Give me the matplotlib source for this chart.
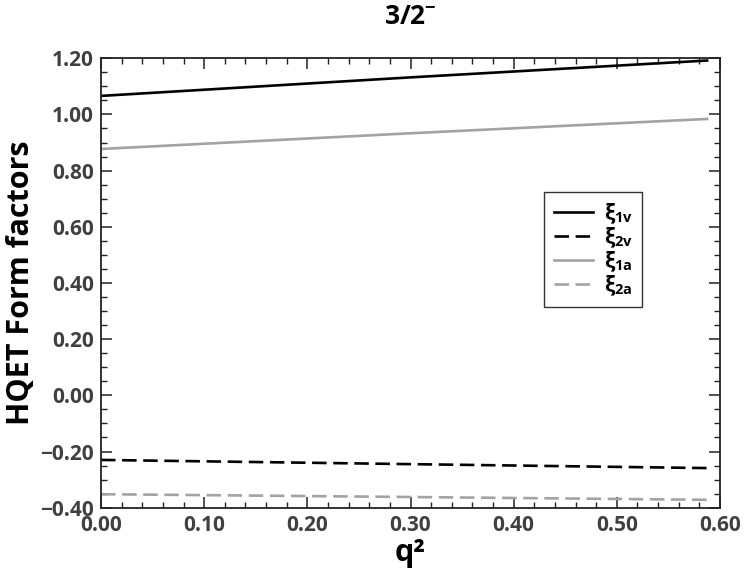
import matplotlib
matplotlib.use("Agg")
import matplotlib.pyplot as plt
from matplotlib.ticker import MultipleLocator, FuncFormatter

# valores
q2 = [0.0, 0.30, 0.5875]
xi_1v = [1.066, 1.132, 1.192]
xi_2v = [-0.230, -0.245, -0.259]
xi_1a = [0.877, 0.933, 0.984]
xi_2a = [-0.352, -0.362, -0.372]

rotulos = ["ξ$_{\\mathrm{1v}}$", "ξ$_{\\mathrm{2v}}$", "ξ$_{\\mathrm{1a}}$", "ξ$_{\\mathrm{2a}}$"]

plt.rcParams['font.family'] = ['Open Sans', 'DejaVu Sans']
plt.rcParams['mathtext.fontset'] = 'custom'
plt.rcParams['mathtext.rm'] = 'Open Sans:bold'
plt.rcParams['mathtext.bf'] = 'Open Sans:bold'
plt.rcParams['mathtext.it'] = 'Open Sans:bold'

def fmt(v, pos):
    # sinal de menos comprido como no original
    return ("%.2f" % v).replace("-", "\u2212")

fig = plt.figure(figsize=(7.47, 5.88), dpi=100)
ax = fig.add_axes([0.1352, 0.1366, 0.8287, 0.7643])

preto = 'black'
cinza = '#a3a3a3'
tracejado = (0, (5.5, 2.5))

ax.plot(q2, xi_1v, color=preto, lw=1.9, label=rotulos[0])
ax.plot(q2, xi_2v, color=preto, lw=1.9, linestyle=tracejado, label=rotulos[1])
ax.plot(q2, xi_1a, color=cinza, lw=1.9, label=rotulos[2])
ax.plot(q2, xi_2a, color=cinza, lw=1.9, linestyle=tracejado, label=rotulos[3])

ax.set_xlim(0.0, 0.6)
ax.set_ylim(-0.4, 1.2)
ax.xaxis.set_major_locator(MultipleLocator(0.1))
ax.xaxis.set_minor_locator(MultipleLocator(0.02))
ax.yaxis.set_major_locator(MultipleLocator(0.2))
ax.yaxis.set_minor_locator(MultipleLocator(0.05))
ax.xaxis.set_major_formatter(FuncFormatter(fmt))
ax.yaxis.set_major_formatter(FuncFormatter(fmt))

ax.tick_params(which='both', direction='in', top=True, right=True, color='#222222')
ax.tick_params(which='major', length=8, width=1.1, labelsize=15, labelcolor='#404040', pad=5)
ax.tick_params(which='minor', length=4.5, width=1.0)
for lab in ax.get_xticklabels() + ax.get_yticklabels():
    lab.set_fontweight('bold')
for sp in ax.spines.values():
    sp.set_linewidth(1.3)
    sp.set_color('#222222')

ax.set_xlabel("q²", fontsize=22, fontweight='bold', labelpad=2)
ax.set_ylabel("HQET Form factors", fontsize=22, fontweight='bold', labelpad=3)
ax.set_title("3/2$^{-}$", fontsize=19, fontweight='bold', pad=25)

leg = ax.legend(loc='upper left', bbox_to_anchor=(0.716, 0.7025),
                prop={'size': 15, 'weight': 'bold'},
                frameon=True, fancybox=False, edgecolor='#333333', framealpha=1,
                handlelength=1.9, handletextpad=0.5, labelspacing=0.0,
                borderpad=0.45, borderaxespad=0)
leg.get_frame().set_linewidth(1.0)

fig.savefig('out.png', dpi=100)
